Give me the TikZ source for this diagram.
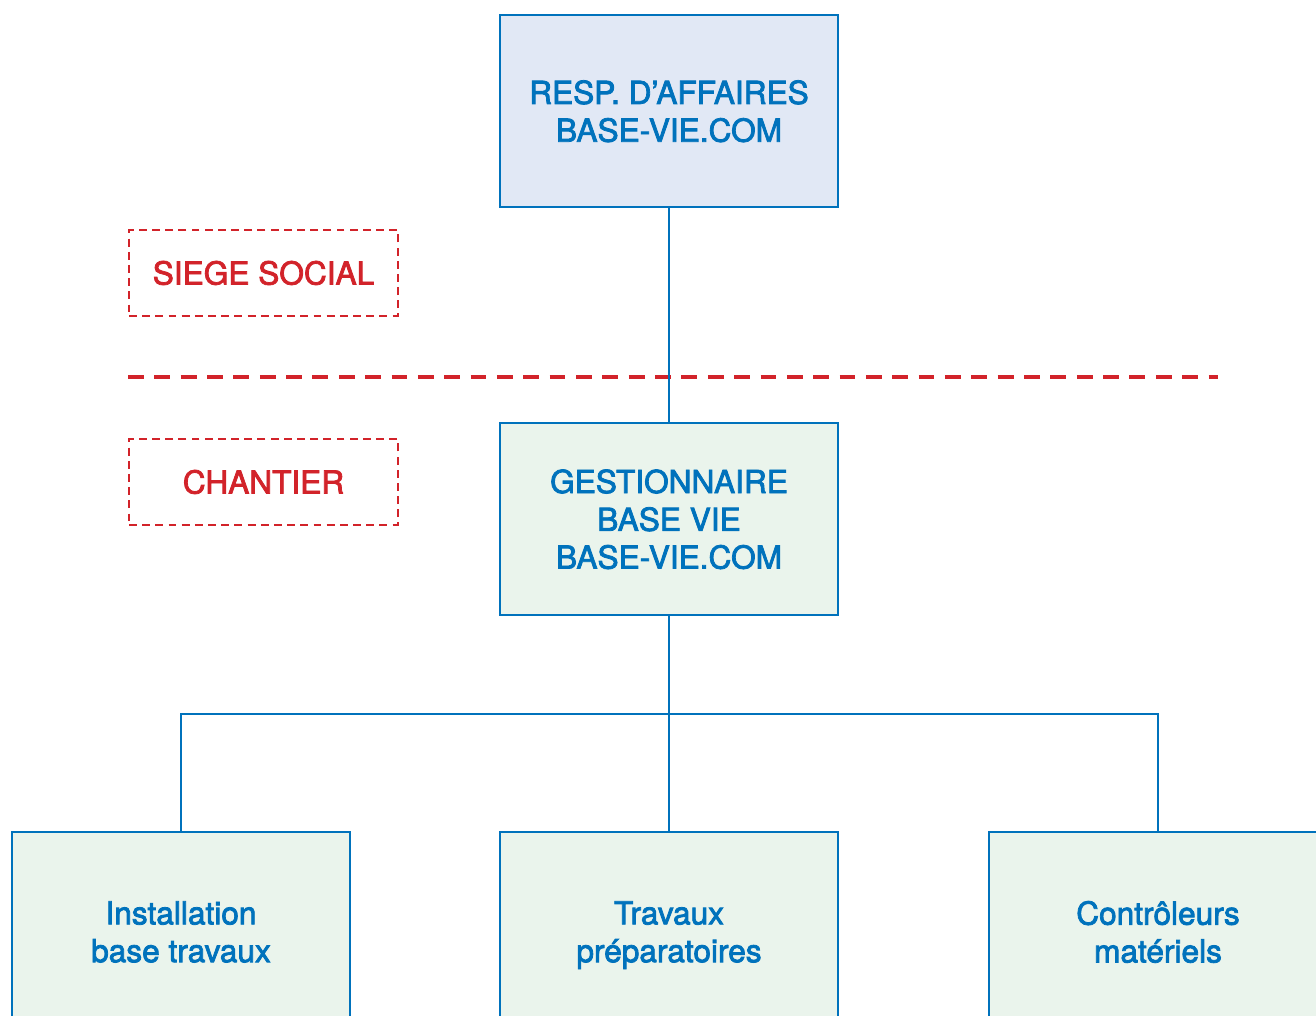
\documentclass[tikz,border=0pt]{standalone}
\usepackage{fontspec}
\setmainfont[FakeBold=2.5]{TeX Gyre Heros}
\definecolor{orgblue}{RGB}{0,114,188}
\definecolor{orgred}{RGB}{210,35,42}
\definecolor{fillblue}{RGB}{225,232,245}
\definecolor{fillgreen}{RGB}{234,244,236}
\begin{document}
\begin{tikzpicture}[x=0.02cm,y=-0.02cm,
	box/.style={draw=orgblue,line width=1.4pt,text=orgblue,align=center,inner sep=0pt,text depth=0pt,
		minimum width=6.76cm,minimum height=3.84cm,font=\fontsize{18}{21.5}\selectfont},
	place/.style={draw=orgred,line width=1.1pt,dash pattern=on 4.5pt off 3pt,text=orgred,
		minimum width=5.38cm,minimum height=1.72cm,inner sep=0pt,font=\fontsize{18}{21.5}\selectfont},
	link/.style={draw=orgblue,line width=1.2pt}]
	\useasboundingbox (0,0) rectangle (1316,1016);
	\clip (0,0) rectangle (1316,1016);
	% boxes
	\node[box,fill=fillblue] (resp) at (669,111) {RESP. D'AFFAIRES\\BASE-VIE.COM};
	\node[place] (siege) at (263.5,273) {SIEGE SOCIAL};
	\node[place] (chantier) at (263.5,482) {CHANTIER};
	\node[box,fill=fillgreen] (gest) at (669,519) {GESTIONNAIRE\\BASE VIE\\BASE-VIE.COM};
	\node[box,fill=fillgreen,minimum height=3.98cm,anchor=north] (install) at (181,831) {Installation\\base travaux};
	\node[box,fill=fillgreen,minimum height=3.98cm,anchor=north] (travaux) at (669,831) {Travaux\\préparatoires};
	\node[box,fill=fillgreen,minimum height=3.98cm,anchor=north] (controle) at (1158,831) {Contrôleurs\\matériels};
	% separation
	\coordinate (sepl) at (128,377);
	\coordinate (sepr) at (1218,377);
	\draw[orgred,line width=2.8pt,dash pattern=on 9pt off 6pt] (sepl) -- (sepr);
	% connectors
	\coordinate (bus) at (669,714);
	\draw[link] (resp.south) -- (gest.north);
	\draw[link] (gest.south) -- (travaux.north);
	\draw[link] (install.north) |- (bus) -| (controle.north);
\end{tikzpicture}
\end{document}
